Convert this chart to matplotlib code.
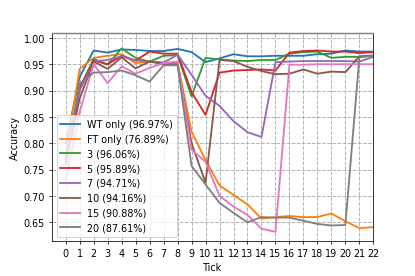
import matplotlib
import matplotlib.pyplot as plt
import numpy as np

matplotlib.use('Agg')

ticks = list(range(23))

wt_only = [0.80, 0.926, 0.976, 0.972, 0.978, 0.977, 0.975, 0.975, 0.979, 0.973, 0.954, 0.961,
           0.969, 0.965, 0.965, 0.966, 0.966, 0.966, 0.969, 0.970, 0.976, 0.974, 0.974]
ft_only = [0.78, 0.941, 0.962, 0.966, 0.969, 0.952, 0.955, 0.953, 0.953, 0.822, 0.768, 0.720,
           0.702, 0.684, 0.657, 0.660, 0.662, 0.660, 0.660, 0.667, 0.652, 0.639, 0.641]
k3 = [0.77, 0.905, 0.960, 0.949, 0.980, 0.962, 0.955, 0.966, 0.967, 0.889, 0.962, 0.959,
      0.957, 0.956, 0.958, 0.958, 0.970, 0.973, 0.974, 0.962, 0.964, 0.964, 0.967]
k5 = [0.77, 0.905, 0.957, 0.950, 0.966, 0.957, 0.974, 0.970, 0.970, 0.897, 0.854, 0.934,
      0.938, 0.939, 0.940, 0.938, 0.972, 0.975, 0.976, 0.974, 0.974, 0.971, 0.973]
k7 = [0.76, 0.900, 0.955, 0.958, 0.965, 0.957, 0.955, 0.953, 0.968, 0.930, 0.890, 0.871,
      0.842, 0.821, 0.812, 0.954, 0.955, 0.956, 0.956, 0.956, 0.956, 0.955, 0.964]
k10 = [0.76, 0.885, 0.955, 0.941, 0.963, 0.942, 0.955, 0.950, 0.950, 0.800, 0.725, 0.958,
       0.956, 0.945, 0.937, 0.931, 0.932, 0.940, 0.932, 0.936, 0.935, 0.965, 0.966]
k15 = [0.73, 0.860, 0.950, 0.914, 0.946, 0.932, 0.943, 0.952, 0.955, 0.788, 0.765, 0.700,
       0.680, 0.664, 0.638, 0.632, 0.949, 0.949, 0.950, 0.950, 0.950, 0.950, 0.950]
k20 = [0.76, 0.913, 0.934, 0.935, 0.938, 0.929, 0.917, 0.948, 0.948, 0.757, 0.722, 0.687,
       0.668, 0.650, 0.660, 0.659, 0.659, 0.653, 0.647, 0.644, 0.645, 0.963, 0.966]

series = [
    ('WT only (96.97%)', wt_only),
    ('FT only (76.89%)', ft_only),
    ('3 (96.06%)', k3),
    ('5 (95.89%)', k5),
    ('7 (94.71%)', k7),
    ('10 (94.16%)', k10),
    ('15 (90.88%)', k15),
    ('20 (87.61%)', k20),
]

fig = plt.figure(figsize=(6, 4), dpi=69.17)
ax = fig.add_axes([0.1246, 0.1253, 0.775, 0.7545])

for label, values in series:
    ax.plot(ticks, values, linewidth=1.9, label=label)

ax.set_xlim(-1, 22)
ax.set_ylim(0.614, 1.010)
ax.set_xticks(ticks)
ax.set_yticks(np.arange(0.65, 1.001, 0.05))
ax.grid(True, linestyle='--', color='#b0b0b0', linewidth=1.0)
ax.spines['top'].set_color('#808080')
ax.spines['top'].set_linewidth(1.5)
ax.set_xlabel('Tick')
ax.set_ylabel('Accuracy')
ax.legend(loc='lower left')

fig.savefig('out.png', dpi=69.17)
